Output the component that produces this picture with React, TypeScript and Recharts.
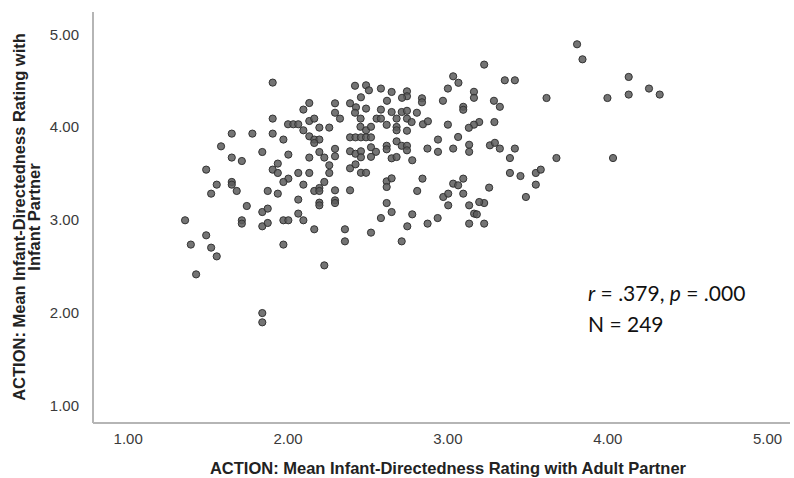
import { Label, Scatter, ScatterChart, XAxis, YAxis } from 'recharts';

// [adult partner rating, infant partner rating]
const leftCluster: [number, number][] = [
  [1.904, 4.479], [2.133, 4.259], [2.096, 4.188], [1.904, 4.091], [2.133, 4.065],
  [2.164, 4.091], [2.0, 4.03], [2.033, 4.03], [2.064, 4.03], [2.096, 3.965],
  [2.196, 3.994], [2.258, 3.994], [1.648, 3.929], [1.777, 3.929], [1.904, 3.929],
  [2.133, 3.9], [2.164, 3.865], [2.196, 3.865], [2.164, 3.828], [1.971, 3.865],
  [1.581, 3.792], [1.839, 3.731], [2.002, 3.703], [2.196, 3.731], [1.648, 3.671],
  [1.711, 3.634], [2.133, 3.671], [2.227, 3.671], [1.488, 3.541], [1.904, 3.541],
  [1.936, 3.606], [1.936, 3.505], [2.064, 3.505], [2.133, 3.505], [2.258, 3.588],
  [2.258, 3.505], [2.002, 3.444], [1.971, 3.408], [1.554, 3.379], [1.648, 3.408],
  [1.648, 3.379], [1.679, 3.311], [1.519, 3.282], [1.873, 3.311], [1.936, 3.282],
  [2.096, 3.379], [2.164, 3.311], [2.196, 3.343], [2.196, 3.311], [2.227, 3.408],
  [2.064, 3.218], [2.196, 3.185], [2.196, 3.156], [1.742, 3.149], [1.839, 3.084],
  [1.873, 3.121], [2.064, 3.067], [2.096, 2.995], [1.356, 2.995], [1.711, 2.995],
  [1.711, 2.959], [1.839, 2.93], [1.873, 2.966], [1.971, 2.995], [2.002, 2.995],
  [2.164, 2.898], [1.488, 2.833], [1.392, 2.733], [1.519, 2.7], [1.971, 2.733],
  [1.554, 2.606], [1.425, 2.412], [2.227, 2.509], [1.839, 1.995], [1.839, 1.895],
];

const middleCluster: [number, number][] = [
  [2.419, 4.445], [2.488, 4.45], [2.506, 4.396], [2.456, 4.321], [2.581, 4.415],
  [2.648, 4.378], [2.744, 4.385], [2.744, 4.332], [2.713, 4.315], [2.619, 4.283],
  [2.294, 4.256], [2.388, 4.256], [2.425, 4.213], [2.488, 4.199], [2.581, 4.188],
  [2.648, 4.162], [2.711, 4.162], [2.744, 4.175], [2.806, 4.154], [2.838, 4.31],
  [2.838, 4.267], [2.294, 4.154], [2.419, 4.154], [2.325, 4.091], [2.454, 4.091],
  [2.554, 4.091], [2.581, 4.091], [2.679, 4.091], [2.744, 4.091], [2.773, 4.054],
  [2.844, 4.03], [2.875, 4.062], [2.453, 4.003], [2.488, 3.965], [2.519, 4.003],
  [2.617, 4.024], [2.679, 4.001], [2.679, 3.965], [2.744, 3.96], [2.388, 3.889],
  [2.422, 3.889], [2.456, 3.889], [2.488, 3.889], [2.519, 3.889], [2.617, 3.798],
  [2.617, 3.76], [2.679, 3.846], [2.711, 3.798], [2.744, 3.798], [2.744, 3.749],
  [2.294, 3.765], [2.294, 3.685], [2.388, 3.739], [2.422, 3.712], [2.456, 3.739],
  [2.456, 3.674], [2.519, 3.782], [2.55, 3.733], [2.519, 3.679], [2.388, 3.555],
  [2.422, 3.598], [2.456, 3.507], [2.488, 3.507], [2.648, 3.663], [2.679, 3.677],
  [2.777, 3.642], [2.841, 3.444], [2.617, 3.415], [2.648, 3.447], [2.617, 3.354],
  [3.227, 4.673], [3.033, 4.547], [3.066, 4.477], [3.0, 4.415], [3.163, 4.38],
  [3.163, 4.315], [2.969, 4.283], [3.288, 4.283], [3.325, 4.218], [3.096, 4.218],
  [3.096, 4.186], [3.0, 4.026], [3.196, 4.054], [3.163, 4.026], [3.131, 3.992],
  [3.291, 4.054], [2.938, 3.865], [3.064, 3.893], [2.872, 3.768], [2.938, 3.733],
  [3.033, 3.768], [3.133, 3.809], [3.133, 3.733], [3.263, 3.803], [3.294, 3.83],
  [3.325, 3.768], [2.294, 3.318], [2.294, 3.21], [2.294, 3.181], [2.388, 3.318],
  [2.808, 3.311], [2.971, 3.246], [3.002, 3.282], [3.033, 3.39], [3.064, 3.372],
  [3.096, 3.444], [3.096, 3.282], [3.258, 3.347], [2.617, 3.181], [2.648, 3.084],
  [2.581, 3.019], [2.777, 3.059], [2.746, 2.93], [2.873, 2.959], [2.936, 3.019],
  [3.002, 3.156], [3.133, 3.156], [3.164, 3.067], [3.181, 3.059], [3.227, 3.181],
  [3.196, 3.192], [3.133, 2.959], [3.227, 2.959], [2.356, 2.898], [2.356, 2.768],
  [2.519, 2.862], [2.711, 2.768],
];

const rightCluster: [number, number][] = [
  [3.808, 4.892], [3.842, 4.73], [3.356, 4.504], [3.419, 4.504], [4.131, 4.54],
  [4.258, 4.415], [4.325, 4.35], [4.131, 4.35], [3.998, 4.313], [3.617, 4.313],
  [3.419, 3.768], [3.388, 3.666], [3.679, 3.666], [4.033, 3.666], [3.388, 3.505],
  [3.454, 3.472], [3.55, 3.505], [3.581, 3.541], [3.55, 3.379], [3.488, 3.246],
];

const xTicks = [1, 2, 3, 4, 5];
const yTicks = [1, 2, 3, 4, 5];
const xTitle = 'ACTION: Mean Infant-Directedness Rating with Adult Partner';
const yTitleLines = ['ACTION: Mean Infant-Directedness Rating with', 'Infant Partner'];
const statR = '.379';
const statP = '.000';
const statN = 249;

const data = [...leftCluster, ...middleCluster, ...rightCluster].map(([x, y]) => ({ x, y }));

const tickStyle = { fontSize: 15, fill: '#3a3a3a', fontFamily: '"Liberation Sans", Arial, sans-serif' };
const titleStyle = { fontSize: 16.5, fontWeight: 700, fill: '#222', fontFamily: '"Liberation Sans", Arial, sans-serif' };

function Dot(props: any) {
  const { cx, cy } = props;
  if (cx == null || cy == null) return null;
  return <circle cx={cx} cy={cy} r={3.6} fill="#5c5c5c" fillOpacity={0.85} stroke="#333" strokeWidth={1} />;
}

function YTitle() {
  return (
    <g>
      <text x={25} y={217} transform="rotate(-90, 25, 217)" textAnchor="middle" {...titleStyle}>
        {yTitleLines[0]}
      </text>
      <text x={40} y={217} transform="rotate(-90, 40, 217)" textAnchor="middle" {...titleStyle}>
        {yTitleLines[1]}
      </text>
    </g>
  );
}

function XTitle() {
  return (
    <text x={448} y={474} textAnchor="middle" {...titleStyle}>
      {xTitle}
    </text>
  );
}

export default function App() {
  return (
    <div style={{ position: 'absolute', left: 0, top: 0, width: 794, height: 478, background: '#fff' }}>
      <ScatterChart width={794} height={478} margin={{ top: 12, right: 4, bottom: 0, left: 0 }}>
        <XAxis
          type="number"
          dataKey="x"
          domain={[0.78, 5.14]}
          ticks={xTicks}
          tickFormatter={(v: number) => v.toFixed(2)}
          tick={tickStyle}
          tickLine={false}
          tickMargin={4}
          height={55}
          axisLine={{ stroke: '#b5b5b5', strokeWidth: 2 }}
        >
          <Label content={<XTitle />} />
        </XAxis>
        <YAxis
          type="number"
          dataKey="y"
          domain={[0.81, 5.24]}
          ticks={yTicks}
          tickFormatter={(v: number) => v.toFixed(2)}
          tick={tickStyle}
          tickLine={false}
          tickMargin={8}
          width={93}
          axisLine={{ stroke: '#b5b5b5', strokeWidth: 2 }}
        >
          <Label content={<YTitle />} />
        </YAxis>
        <Scatter data={data} shape={<Dot />} isAnimationActive={false} />
      </ScatterChart>
      <svg width={794} height={478} style={{ position: 'absolute', left: 0, top: 0, pointerEvents: 'none' }}>
        <text x={588} y={301} fontSize={21} fill="#111" fontFamily="Lato, 'Open Sans', sans-serif">
          <tspan fontStyle="italic">r</tspan> = {statR}, <tspan fontStyle="italic">p</tspan> = {statP}
        </text>
        <text x={588} y={332} fontSize={21} fill="#111" fontFamily="Lato, 'Open Sans', sans-serif">
          N = {statN}
        </text>
      </svg>
    </div>
  );
}
